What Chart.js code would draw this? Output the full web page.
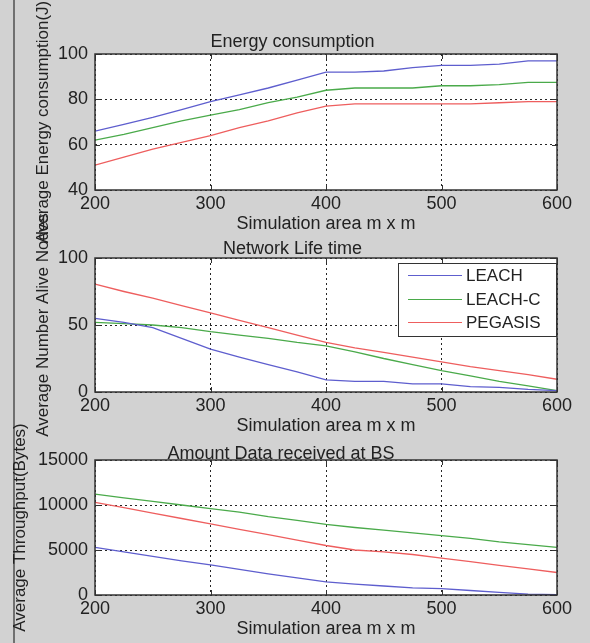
<!DOCTYPE html>
<html>
<head>
<meta charset="utf-8">
<script src="https://cdn.jsdelivr.net/npm/chart.js@4.4.1/dist/chart.umd.min.js"></script>
<style>
  html, body { margin: 0; padding: 0; background: #d2d2d2; }
  #wrap { position: relative; width: 590px; height: 643px; overflow: hidden; }
  #wrap canvas { position: absolute; left: 0; top: 0; }
  .edge { position: absolute; left: 13px; top: 0; width: 2px; height: 643px; background: #707070; }
</style>
</head>
<body>
<div id="wrap">
  <div class="edge"></div>
  <canvas id="energy" width="590" height="643"></canvas>
  <canvas id="lifetime" width="590" height="643"></canvas>
  <canvas id="throughput" width="590" height="643"></canvas>
</div>
<script>
// Simulation area (m x m)
const area = [200, 225, 250, 275, 300, 325, 350, 375, 400, 425, 450, 475, 500, 525, 550, 575, 600]
const seriesNames = ['LEACH', 'LEACH-C', 'PEGASIS']
const seriesColors = ['#5e5ece', '#4aaa4a', '#ee5e5e']

// Energy consumption (J)
const energyLeach   = [66, 69, 72, 75.5, 79, 82, 85, 88.5, 92, 92, 92.5, 94, 95, 95, 95.5, 97, 97]
const energyLeachC  = [62, 64.5, 67.5, 70.5, 73, 75.5, 78.5, 81, 84, 85, 85, 85, 86, 86, 86.5, 87.5, 87.5]
const energyPegasis = [51, 54.5, 58, 61, 64, 67.5, 70.5, 74, 77, 78, 78, 78, 78, 78, 78.5, 79, 79]

// Network life time (alive nodes)
const aliveLeach   = [55, 52, 48, 40, 32, 26, 20.5, 15, 9, 8, 8, 6, 6, 4, 3.5, 2, 1]
const aliveLeachC  = [52, 51, 50, 48, 45, 42.5, 40, 37, 34.5, 30, 25, 20.5, 16, 12, 8, 4.5, 1]
const alivePegasis = [80.5, 75, 70, 64.5, 59, 53.5, 48, 42.5, 37, 33, 29.5, 26, 22.5, 19, 16, 13, 9.5]

// Amount of data received at BS (bytes)
const dataLeach   = [5300, 4800, 4300, 3800, 3350, 2850, 2350, 1900, 1450, 1200, 1000, 800, 700, 500, 300, 100, 50]
const dataLeachC  = [11200, 10800, 10400, 10000, 9600, 9200, 8700, 8300, 7850, 7500, 7200, 6900, 6600, 6300, 5900, 5600, 5300]
const dataPegasis = [10300, 9700, 9100, 8500, 7900, 7300, 6700, 6100, 5500, 5000, 4800, 4500, 4100, 3700, 3300, 2900, 2500]

Chart.defaults.font.family = "'Liberation Sans', Arial, sans-serif"
Chart.defaults.font.size = 18
Chart.defaults.color = '#222'

// weisser Plotbereich, Rahmen und Tick-Striche nach innen (wie MATLAB)
const axesBox = {
  id: 'axesBox',
  beforeDraw(chart) {
    const { ctx, chartArea: a } = chart
    ctx.save()
    ctx.fillStyle = '#ffffff'
    ctx.fillRect(a.left, a.top, a.right - a.left, a.bottom - a.top)
    ctx.restore()
  },
  afterDraw(chart) {
    const { ctx, chartArea: a, scales } = chart
    ctx.save()
    ctx.strokeStyle = '#333'
    ctx.lineWidth = 1
    ctx.beginPath()
    scales.x.ticks.forEach(t => {
      const px = Math.round(scales.x.getPixelForValue(t.value)) + 0.5
      ctx.moveTo(px, a.bottom); ctx.lineTo(px, a.bottom - 5)
      ctx.moveTo(px, a.top); ctx.lineTo(px, a.top + 5)
    })
    scales.y.ticks.forEach(t => {
      const py = Math.round(scales.y.getPixelForValue(t.value)) + 0.5
      ctx.moveTo(a.left, py); ctx.lineTo(a.left + 5, py)
      ctx.moveTo(a.right, py); ctx.lineTo(a.right - 5, py)
    })
    ctx.stroke()
    ctx.lineWidth = 1.5
    ctx.strokeRect(a.left, a.top, a.right - a.left, a.bottom - a.top)
    ctx.restore()
  }
}

// Legende innerhalb des Plots oben rechts
const insideLegend = {
  id: 'insideLegend',
  afterDraw(chart, args, opts) {
    if (!opts.show) return
    const { ctx, chartArea: a } = chart
    const w = 159, h = 74
    const left = a.right - w, top = a.top + 5
    ctx.save()
    ctx.fillStyle = '#fff'
    ctx.fillRect(left, top, w, h)
    ctx.strokeStyle = '#333'
    ctx.lineWidth = 1
    ctx.strokeRect(left + 0.5, top + 0.5, w - 1, h - 1)
    ctx.font = "17px 'Liberation Sans', Arial, sans-serif"
    ctx.textBaseline = 'middle'
    chart.data.datasets.forEach((ds, i) => {
      const y = Math.round(top + 12 + i * 23.5) + 0.5
      ctx.strokeStyle = ds.borderColor
      ctx.beginPath()
      ctx.moveTo(left + 10, y); ctx.lineTo(left + 64, y)
      ctx.stroke()
      ctx.fillStyle = '#222'
      ctx.fillText(ds.label, left + 68, y + 1)
    })
    ctx.restore()
  }
}

function makeChart(id, title, yTitle, yMin, yMax, yStep, values, plotTop, plotBottom, leftPad, titleGap, showLegend) {
  const datasets = values.map((v, i) => ({
    label: seriesNames[i],
    data: area.map((x, j) => ({ x: x, y: v[j] })),
    borderColor: seriesColors[i],
    borderWidth: 1.3,
    pointRadius: 0,
    tension: 0
  }))
  const titleBottom = titleGap - 9   // Titelhoehe 18px, Mitte 9px unter Oberkante

  return new Chart(document.getElementById(id), {
    type: 'line',
    data: { datasets },
    plugins: [axesBox, insideLegend],
    options: {
      responsive: false,
      animation: false,
      events: [],
      layout: {
        padding: { left: leftPad, right: 33, top: plotTop - 18 - titleBottom, bottom: 643 - plotBottom - 45 }
      },
      plugins: {
        legend: { display: false },
        tooltip: { enabled: false },
        title: {
          display: true,
          text: title,
          color: '#222',
          font: { size: 18, weight: 'normal', lineHeight: 1 },
          padding: { top: 0, bottom: titleBottom }
        },
        insideLegend: { show: showLegend }
      },
      scales: {
        x: {
          type: 'linear',
          min: 200,
          max: 600,
          ticks: { stepSize: 100, padding: 3, color: '#222', maxRotation: 0 },
          grid: { color: 'rgba(0,0,0,0.85)', drawTicks: false },
          border: { display: false, dash: [2, 3] },
          title: { display: true, text: 'Simulation area m x m', color: '#222', padding: { top: 0, bottom: 0 } },
          afterFit(scale) { scale.height = 45 }
        },
        y: {
          min: yMin,
          max: yMax,
          ticks: { stepSize: yStep, padding: 7, color: '#222', callback: v => String(v) },
          grid: { color: 'rgba(0,0,0,0.85)', drawTicks: false },
          border: { display: false, dash: [2, 3] },
          title: { display: true, text: yTitle, color: '#222', font: { size: 17 }, padding: { top: 5, bottom: 0 } },
          afterFit(scale) { scale.width = 95 - leftPad }
        }
      }
    }
  })
}

makeChart('energy', 'Energy consumption', 'Average Energy consumption(J)', 40, 100, 20,
  [energyLeach, energyLeachC, energyPegasis], 54, 190, 28, 12, false)
makeChart('lifetime', 'Network Life time', 'Average Number Alive Nodes', 0, 100, 50,
  [aliveLeach, aliveLeachC, alivePegasis], 258, 392, 28, 9, true)
makeChart('throughput', 'Amount Data received at BS', 'Average Throughput(Bytes)', 0, 15000, 5000,
  [dataLeach, dataLeachC, dataPegasis], 460, 595, 5, 6, false)
</script>
</body>
</html>
